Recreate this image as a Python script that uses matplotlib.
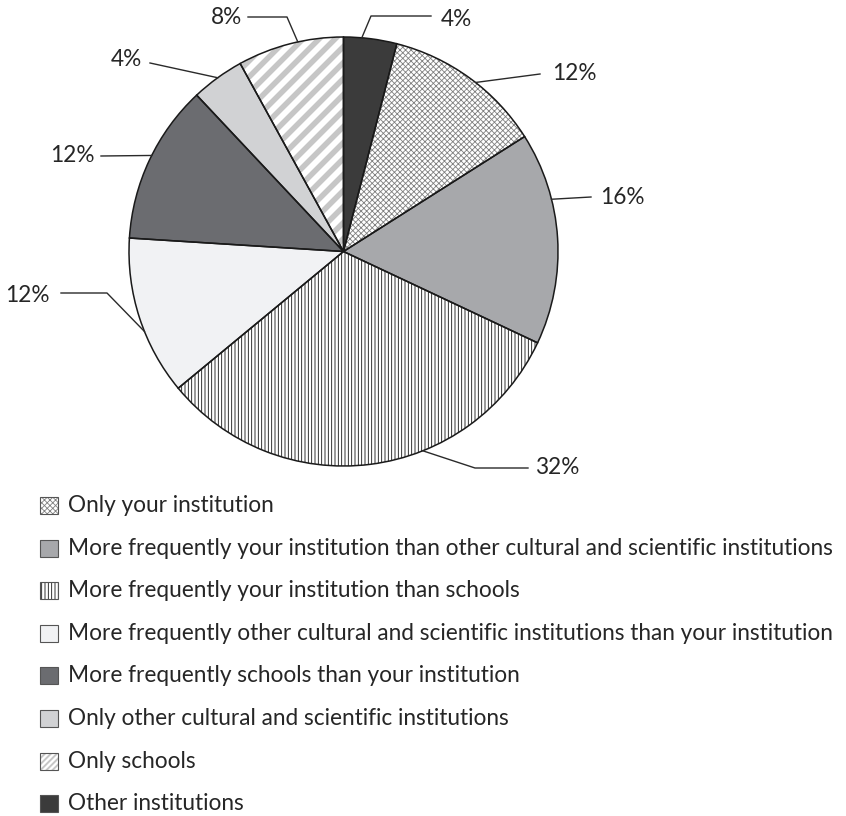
import numpy as np
import matplotlib
matplotlib.use("Agg")
import matplotlib.pyplot as plt
from matplotlib.patches import Rectangle

plt.rcParams['font.family'] = ['Lato', 'DejaVu Sans']

# ---------------- data ----------------
categories = [
    "Only your institution",
    "More frequently your institution than other cultural and scientific institutions",
    "More frequently your institution than schools",
    "More frequently other cultural and scientific institutions than your institution",
    "More frequently schools than your institution",
    "Only other cultural and scientific institutions",
    "Only schools",
    "Other institutions",
]
values = [12, 16, 32, 12, 12, 4, 8, 4]

# ---------------- style ----------------
face_colors = ['white', '#a7a8ab', 'white', '#f1f2f4', '#6b6c70', '#d1d2d4', 'white', '#3b3b3b']
hatches = ['x' * 6, None, '|' * 5, None, None, None, None, None]
hatch_colors = ['#808080', None, '#111111', None, None, None, None, None]
stripe_idx = 6
plt.rcParams['hatch.linewidth'] = 0.6

W, H = 846, 816
cx, cy, R = 343.5, 251.5, 214.5
start_cw_from_top = 360 * values[-1] / sum(values)   # first slice starts after the last one

# label layout: anchor angle on the rim (deg, clockwise from top), elbow / end points, text pos, align
label_layout = [
    dict(a=38.0, pts=[(540, 74)], txt=(552, 73), ha='left'),
    dict(a=75.9, pts=[(591, 197)], txt=(600, 197), ha='left'),
    dict(a=158.3, pts=[(475, 468), (528, 468)], txt=(535, 467), ha='left'),
    dict(a=248.1, pts=[(107, 293), (61, 293)], txt=(50, 295), ha='right'),
    dict(a=296.6, pts=[(101, 156)], txt=(95, 155), ha='right'),
    dict(a=324.1, pts=[(150, 63)], txt=(142, 60), ha='right'),
    dict(a=347.7, pts=[(287, 17), (248, 17)], txt=(242, 18), ha='right'),
    dict(a=4.9, pts=[(371, 16), (431, 16)], txt=(441, 19), ha='left'),
]

FS = 16.3

fig = plt.figure(figsize=(W / 100, H / 100), dpi=100)
ax = fig.add_axes([0, 0, 1, 1])
ax.set_xlim(0, W)
ax.set_ylim(H, 0)
ax.set_aspect('equal')
ax.axis('off')


def add_stripes(clip_patch, x0, x1, y0, y1, spacing=16, lw=4.0, color='#c6c6c6'):
    for c in np.arange(x0 + y0, x1 + y1 + spacing, spacing):
        xs = np.array([x0 - 50, x1 + 50])
        ys = c - xs
        ln, = ax.plot(xs, ys, color=color, lw=lw, solid_capstyle='butt', zorder=2)
        ln.set_clip_path(clip_patch)


# hatched / filled layer
wedges, _ = ax.pie(values, center=(cx, cy), radius=R, colors=face_colors,
                   startangle=270 + start_cw_from_top, counterclock=True,
                   wedgeprops=dict(linewidth=0, edgecolor='none'), frame=True)
for w, h, hc in zip(wedges, hatches, hatch_colors):
    w.set_zorder(1)
    if h:
        w.set_hatch(h)
        w.set_edgecolor(hc)
        w.set_linewidth(0)
add_stripes(wedges[stripe_idx], cx - R, cx + R, cy - R, cy + R)

# outline layer
outl, _ = ax.pie(values, center=(cx, cy), radius=R, colors=['none'] * len(values),
                 startangle=270 + start_cw_from_top, counterclock=True,
                 wedgeprops=dict(linewidth=1.1, edgecolor='#1a1a1a', fill=False), frame=True)
for w in outl:
    w.set_zorder(3)

ax.set_xlim(0, W)
ax.set_ylim(H, 0)
ax.axis('off')

# percentage labels with leader lines
for v, lay in zip(values, label_layout):
    a = np.deg2rad(lay['a'])
    px, py = cx + R * np.sin(a), cy - R * np.cos(a)
    xs = [px] + [p[0] for p in lay['pts']]
    ys = [py] + [p[1] for p in lay['pts']]
    ax.plot(xs, ys, color='#2a2a2a', lw=1.0, zorder=4)
    ax.text(lay['txt'][0], lay['txt'][1], f"{v}%", ha=lay['ha'], va='center',
            fontsize=FS, color='#262626', zorder=5)

# legend
leg_x, leg_w, leg_h = 40, 18, 17
leg_y0, leg_dy = 505.5, 42.6
text_x = 68
for i, cat in enumerate(categories):
    yc = leg_y0 + i * leg_dy
    r = Rectangle((leg_x, yc - leg_h / 2), leg_w, leg_h, facecolor=face_colors[i],
                  edgecolor=hatch_colors[i] if hatches[i] else 'none',
                  hatch=hatches[i], linewidth=0, zorder=1)
    ax.add_patch(r)
    if i == stripe_idx:
        add_stripes(r, leg_x, leg_x + leg_w, yc - leg_h / 2, yc + leg_h / 2,
                    spacing=6, lw=1.4)
    ax.add_patch(Rectangle((leg_x, yc - leg_h / 2), leg_w, leg_h, facecolor='none',
                           edgecolor='#555555', linewidth=0.8, zorder=3))
    ax.text(text_x, yc, cat, ha='left', va='center', fontsize=FS, color='#262626')

fig.savefig('out.png', dpi=100)
